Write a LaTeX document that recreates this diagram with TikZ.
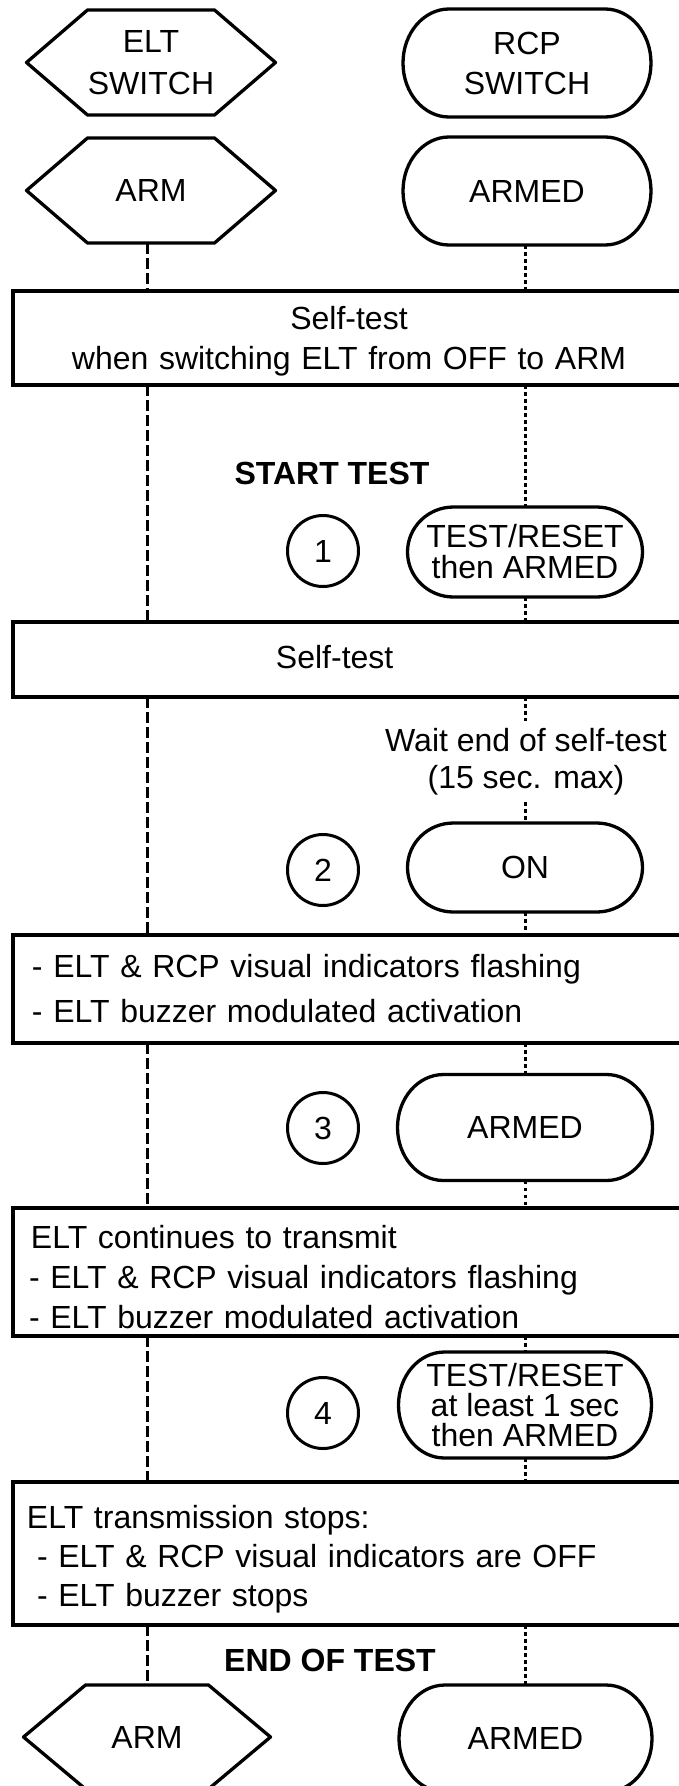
\documentclass[tikz,border=0pt]{standalone}
\usepackage{fontspec}
\setmainfont{Liberation Sans}
\usetikzlibrary{calc}
\newcommand\hexpath[2]{\draw[shapeline] (#1.west) -- ([xshift=#2]#1.north west) -- ([xshift=-#2]#1.north east) -- (#1.east) -- ([xshift=-#2]#1.south east) -- ([xshift=#2]#1.south west) -- cycle;}
\newcommand\stadpath[1]{\draw[shapeline] let \p1=(#1.north), \p2=(#1.south), \n1={(\y1-\y2)/2} in ([xshift=46pt]#1.north west) -- ([xshift=-46pt]#1.north east) arc[start angle=90, end angle=-90, x radius=46pt, y radius=\n1] -- ([xshift=46pt]#1.south west) arc[start angle=270, end angle=90, x radius=46pt, y radius=\n1] -- cycle;}
\tikzset{
  hexnode/.style={inner sep=0pt, outer sep=0pt, align=center, font=\fontsize{32}{42}\selectfont},
  stadnode/.style={inner sep=0pt, outer sep=0pt, align=center, font=\fontsize{32}{30}\selectfont},
  shapeline/.style={line width=3.3pt, line join=round},
  panel/.style={draw, line width=3.5pt, minimum width=672pt, text width=644pt, inner xsep=14pt, inner ysep=0pt, outer sep=0pt},
  circ/.style={draw, circle, line width=3pt, minimum size=71pt, inner sep=0pt, outer sep=0pt, font=\fontsize{32}{32}\selectfont},
  eltline/.style={line width=3pt, dash pattern=on 11pt off 4pt},
  rcpline/.style={line width=3pt, dash pattern=on 3.5pt off 3.5pt},
  lbl/.style={font=\fontsize{32}{37}\selectfont, align=center, inner sep=0pt, outer sep=0pt},
  boldlbl/.style={font=\fontsize{32}{32}\selectfont\bfseries, inner sep=0pt}
}
\begin{document}
\begin{tikzpicture}[x=1pt, y=1pt]
\useasboundingbox (0,0) rectangle (679,-1786);
\clip (0,0) rectangle (679,-1786);
\coordinate (L) at (147,0);
\coordinate (R) at (525,0);

% top shapes
\node[hexnode, minimum width=249pt, minimum height=105pt] (eltsw) at (151,-62.5) {ELT\\SWITCH};
\hexpath{eltsw}{61pt}
\node[hexnode, minimum width=249pt, minimum height=105pt] (arm1) at (151,-190.5) {ARM};
\hexpath{arm1}{61pt}
\node[stadnode, minimum width=248pt, minimum height=108pt, font=\fontsize{32}{40}\selectfont] (rcpsw) at (527,-63) {RCP\\SWITCH};
\stadpath{rcpsw}
\node[stadnode, minimum width=248pt, minimum height=108pt] (armed1) at (527,-191) {ARMED};
\stadpath{armed1}

% box 1
\node[panel, align=center, minimum height=94pt, font=\fontsize{32}{40}\selectfont] (box1) at (349,-338) {\rule{0pt}{29pt}Self-test\\when switching ELT from OFF to ARM};

\node[boldlbl] (start) at (332,-473) {START TEST};

% step 1
\node[circ] (c1) at (323,-551) {1};
\node[stadnode, minimum width=235pt, minimum height=90pt, font=\fontsize{32}{31}\selectfont] (tr1) at (525,-552) {TEST/RESET\\then ARMED};
\stadpath{tr1}

% box 2
\node[panel, align=left, minimum height=75pt, font=\fontsize{32}{40}\selectfont] (box2) at (349,-659.5) {\hspace*{249pt}Self-test\rule[-5pt]{0pt}{5pt}};

\node[lbl, minimum height=81pt] (wait) at (526,-761.5) {Wait end of self-test\\(15 sec. max)};

% step 2
\node[circ] (c2) at (323,-870) {2};
\node[stadnode, minimum width=235pt, minimum height=89pt] (on) at (525,-867.5) {ON};
\stadpath{on}

% box 3
\node[panel, align=left, minimum height=108pt, font=\fontsize{32}{45}\selectfont] (box3) at (349,-989) {\hspace*{5pt}- ELT \& RCP visual indicators flashing\\\hspace*{5pt}- ELT buzzer modulated activation};

% step 3
\node[circ] (c3) at (323,-1128) {3};
\node[stadnode, minimum width=255pt, minimum height=106pt] (armed3) at (525,-1127.5) {ARMED};
\stadpath{armed3}

% box 4
\node[panel, align=left, minimum height=128pt, font=\fontsize{32}{40}\selectfont] (box4) at (349,-1272) {\hspace*{4pt}\rule{0pt}{33pt}ELT continues to transmit\\\hspace*{2pt}- ELT \& RCP visual indicators flashing\\\hspace*{2pt}- ELT buzzer modulated activation};

% step 4
\node[circ] (c4) at (323,-1413) {4};
\node[stadnode, minimum width=253pt, minimum height=106pt] (tr2) at (525,-1405) {TEST/RESET\\at least 1 sec\\then ARMED};
\stadpath{tr2}

% box 5
\node[panel, align=left, minimum height=143pt, font=\fontsize{32}{39}\selectfont] (box5) at (349,-1553.5) {\rule{0pt}{34pt}ELT transmission stops:\\\hspace*{10pt}- ELT \& RCP visual indicators are OFF\\\hspace*{10pt}- ELT buzzer stops};

\node[boldlbl] (endtest) at (330,-1660) {END OF TEST};

% bottom shapes
\node[hexnode, minimum width=247pt, minimum height=104pt] (arm2) at (147,-1737) {ARM};
\hexpath{arm2}{62pt}
\node[stadnode, minimum width=253pt, minimum height=107pt] (armedend) at (525.5,-1738.5) {ARMED};
\stadpath{armedend}

% ELT lifeline (dashed)
\draw[eltline] (arm1.south -| L) -- (box1.north -| L);
\draw[eltline] (box1.south -| L) -- (box2.north -| L);
\draw[eltline] (box2.south -| L) -- (box3.north -| L);
\draw[eltline] (box3.south -| L) -- (box4.north -| L);
\draw[eltline] (box4.south -| L) -- (box5.north -| L);
\draw[eltline] (box5.south -| L) -- (arm2.north -| L);

% RCP lifeline (dotted)
\draw[rcpline] (armed1.south -| R) -- (box1.north -| R);
\draw[rcpline] (box1.south -| R) -- (tr1.north -| R);
\draw[rcpline] (tr1.south -| R) -- (box2.north -| R);
\draw[rcpline] (box2.south -| R) -- (wait.north -| R);
\draw[rcpline] (wait.south -| R) -- (on.north -| R);
\draw[rcpline] (on.south -| R) -- (box3.north -| R);
\draw[rcpline] (box3.south -| R) -- (armed3.north -| R);
\draw[rcpline] (armed3.south -| R) -- (box4.north -| R);
\draw[rcpline] (box4.south -| R) -- (tr2.north -| R);
\draw[rcpline] (tr2.south -| R) -- (box5.north -| R);
\draw[rcpline] (box5.south -| R) -- (armedend.north -| R);
\end{tikzpicture}
\end{document}
